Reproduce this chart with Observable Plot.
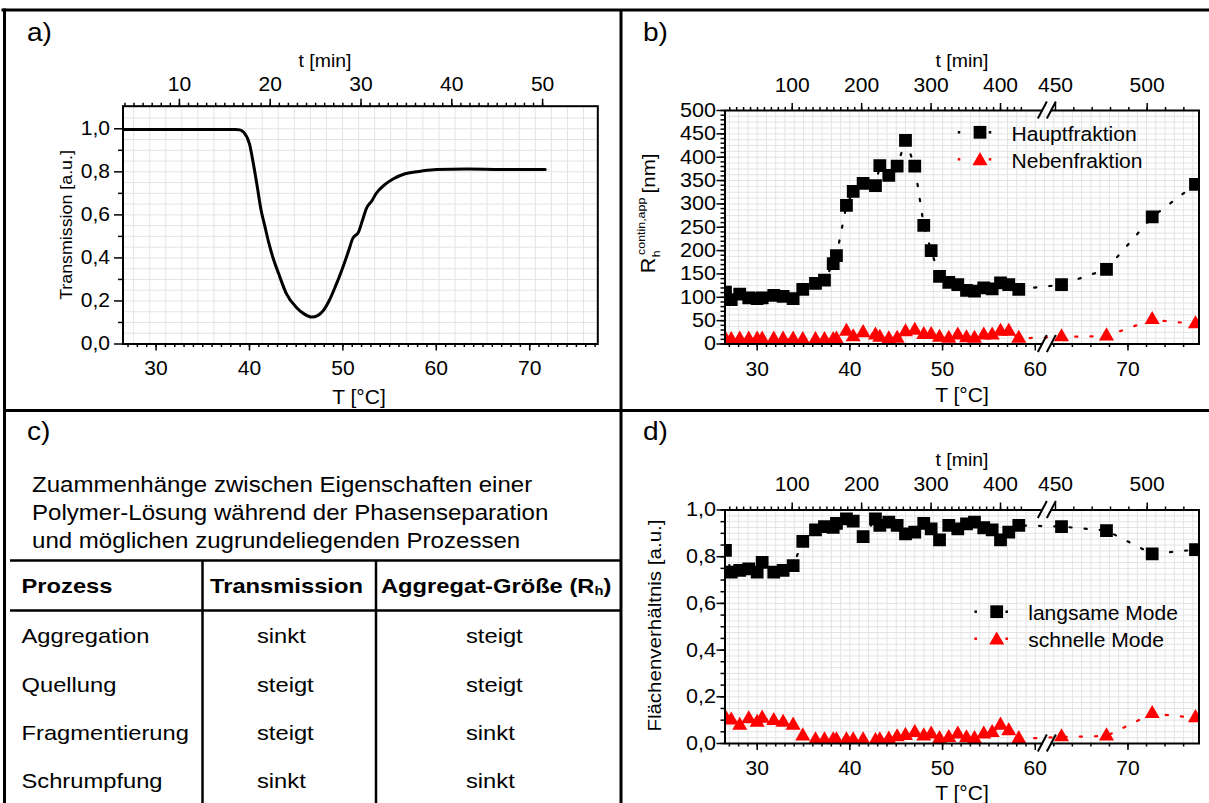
<!DOCTYPE html>
<html><head><meta charset="utf-8">
<script src="https://cdn.jsdelivr.net/npm/d3@7"></script>
<script src="https://cdn.jsdelivr.net/npm/@observablehq/plot@0.6"></script>
<style>
html,body{margin:0;padding:0;background:#fff;overflow:hidden;}
#root{position:relative;width:1209px;height:803px;}
#root svg{position:absolute;left:0;top:0;pointer-events:none;}
</style></head><body><div id="root"></div>
<script>
// ---------- DATA ----------
// a) Transmission vs temperature
const tempA = [26.5, 30, 35, 38.5, 38.96, 39.38, 40.0, 40.42, 40.84, 41.25, 41.67, 42.09, 42.5, 43.13, 43.96, 45.0, 45.84, 46.67, 47.29, 47.92, 48.54, 49.17, 50.0, 50.62, 51.04, 51.67, 52.09, 52.5, 53.13, 53.54, 54.59, 55.42, 56.67, 58.33, 60.0, 63.3, 67.0, 71.66];
const transmission = [0.997, 0.997, 0.997, 0.997, 0.995, 0.984, 0.93, 0.837, 0.729, 0.62, 0.543, 0.466, 0.403, 0.326, 0.233, 0.171, 0.14, 0.125, 0.132, 0.156, 0.202, 0.264, 0.357, 0.434, 0.489, 0.52, 0.574, 0.628, 0.667, 0.698, 0.744, 0.768, 0.791, 0.803, 0.811, 0.813, 0.811, 0.811];
// b) and d) measurement temperatures
const tempDLS = [26.58, 27.20, 28.12, 29.09, 30.00, 30.54, 31.79, 32.80, 33.88, 34.92, 36.29, 37.26, 38.20, 38.55, 39.63, 40.36, 41.43, 42.76, 43.23, 44.20, 45.10, 46.00, 47.00, 47.97, 48.77, 49.67, 50.67, 51.64, 52.58, 53.44, 54.44, 55.35, 56.25, 57.14, 58.22, 62.83, 67.68, 72.61, 77.28];
const rHaupt = [111, 95, 107, 99, 97, 99, 104, 102, 97, 117, 130, 137, 172, 189, 297, 327, 344, 339, 382, 361, 381, 436, 381, 254, 200, 145, 132, 127, 115, 113, 120, 118, 131, 127, 117, 127, 160, 272, 342];
const rNeben = [10, 9, 10, 10, 10, 10, 10, 10, 10, 9, 9, 9, 9, 10, 27, 15, 24, 19, 14, 11, 12, 26, 29, 20, 20, 14, 12, 19, 13, 12, 19, 19, 27, 27, 12, 15, 17, 52, 43];
const areaSlow = [0.827, 0.734, 0.741, 0.748, 0.734, 0.776, 0.734, 0.741, 0.762, 0.866, 0.915, 0.929, 0.926, 0.943, 0.962, 0.952, 0.886, 0.962, 0.934, 0.948, 0.934, 0.898, 0.905, 0.943, 0.919, 0.872, 0.934, 0.919, 0.941, 0.948, 0.924, 0.915, 0.872, 0.905, 0.934, 0.929, 0.912, 0.812, 0.830];
const areaFast = [0.11, 0.10, 0.077, 0.105, 0.09, 0.108, 0.098, 0.09, 0.078, 0.032, 0.015, 0.015, 0.015, 0.015, 0.015, 0.015, 0.015, 0.012, 0.015, 0.018, 0.028, 0.034, 0.046, 0.032, 0.04, 0.02, 0.025, 0.04, 0.024, 0.02, 0.04, 0.046, 0.078, 0.054, 0.02, 0.028, 0.032, 0.128, 0.11];
// tick labels
const tempTicks = [30, 40, 50, 60, 70];
const tMajorA = [10, 20, 30, 40, 50];
const tMajorB = [100, 200, 300, 400, 450, 500];
const rTicks = [0, 50, 100, 150, 200, 250, 300, 350, 400, 450, 500];
const fracTicks = [0, 0.2, 0.4, 0.6, 0.8, 1.0];
// heating programs (time -> temperature)
const heatA = {t0: 10, T0: 32.5, rate: 0.972};
const heatB = [{t0: 100, T0: 33.78, rate: 0.0749}, {t0: 450, T0: 62.18, rate: 0.1978}];
const breakTemp = 61.3;
// legends & table
const legendB = ["Hauptfraktion", "Nebenfraktion"];
const legendD = ["langsame Mode", "schnelle Mode"];
const cText = ["Zuammenhänge zwischen Eigenschaften einer", "Polymer-Lösung während der Phasenseparation", "und möglichen zugrundeliegenden Prozessen"];
const cHeader = ["Prozess", "Transmission", "Aggregat-Größe (R"];
const processes = ["Aggregation", "Quellung", "Fragmentierung", "Schrumpfung"];
const effTransmission = ["sinkt", "steigt", "steigt", "sinkt"];
const effSize = ["steigt", "steigt", "sinkt", "sinkt"];

// ---------- HELPERS ----------
const W = 1209, H = 803;
const FONT = "'Liberation Sans', Arial, Helvetica, sans-serif";
const STRETCH = 1.08;
const RED = "#ff0000";
const GRID = {stroke: "#e4e4e4", strokeOpacity: 1, strokeWidth: 1};
const SQ_R = 7.2, TRI_R = 5.6;
const comma = d => d.toFixed(1).replace(".", ",");
const blank = () => "";
const tToTa = t => heatA.T0 + (t - heatA.t0) * heatA.rate;
const tToTb = t => { const s = t < 440 ? heatB[0] : heatB[1]; return s.T0 + (t - s.t0) * s.rate; };
const labelMap = (ts, f) => { const m = new Map(ts.map(t => [f(t), String(t)])); return d => m.get(d); };

function base(fr) {
  return {
    width: W, height: H,
    marginLeft: fr.left, marginRight: W - fr.right, marginTop: fr.top, marginBottom: H - fr.bottom,
    style: {fontFamily: FONT, fontSize: "19px", background: "transparent", overflow: "visible", color: "black"}
  };
}
// widen glyphs horizontally around each label's own anchor (x/y em offsets are left untouched)
function stretchText(svg, s) {
  svg.querySelectorAll("text").forEach(t => {
    const tr = t.getAttribute("transform") || "";
    t.setAttribute("transform", tr + ` scale(${s},1)`);
  });
}
const root = document.getElementById("root");

// ---------- PANEL a ----------
const frameA = {left: 122.5, right: 597.3, top: 105.7, bottom: 343.5};
const dataA = tempA.map((T, i) => ({T, v: transmission[i]}));
const plotA = Plot.plot({
  ...base(frameA),
  x: {domain: [26.46, 77.29], label: null},
  y: {domain: [0, 1.105], label: null},
  marks: [
    Plot.gridX(d3.range(27.6, 77.2, 1.72), GRID),
    Plot.gridY(d3.range(1, 22).map(i => i * 0.05), GRID),
    Plot.line(dataA, {x: "T", y: "v", stroke: "black", strokeWidth: 3, curve: "monotone-x"}),
    Plot.axisX(d3.range(27, 78), {anchor: "bottom", tickSize: 3.5, strokeWidth: 1.5, tickFormat: blank, label: null}),
    Plot.axisX(tempTicks, {anchor: "bottom", tickSize: 7, tickPadding: 10, strokeWidth: 1.5, fontSize: 19.5, label: null}),
    Plot.axisX(d3.range(4, 51).map(tToTa), {anchor: "top", tickSize: 4, strokeWidth: 1.5, tickFormat: blank, label: null}),
    Plot.axisX(tMajorA.map(tToTa), {anchor: "top", tickSize: 8, tickPadding: 7, strokeWidth: 1.5, fontSize: 19.5, tickFormat: labelMap(tMajorA, tToTa), label: null}),
    Plot.axisY([0.1, 0.3, 0.5, 0.7, 0.9], {anchor: "left", tickSize: 4.4, strokeWidth: 1.5, tickFormat: blank, label: null}),
    Plot.axisY(fracTicks, {anchor: "left", tickSize: 8.5, tickPadding: 4.5, strokeWidth: 1.5, fontSize: 19.5, tickFormat: comma, label: null}),
    Plot.frame({stroke: "black", strokeWidth: 2})
  ]
});
stretchText(plotA, STRETCH);
root.append(plotA);

// ---------- PANELS b and d ----------
const xDLS = {domain: [26.53, 77.66], label: null};
const tempMinor = [...d3.range(27, 61), ...d3.range(62, 78, 2)];
const tMinorB = [...d3.range(10, 440, 10), ...d3.range(460, 530, 10)];
function dlsAxes(yMajor, yMinor, yFmt) {
  return [
    Plot.axisX(tempMinor, {anchor: "bottom", tickSize: 3.5, strokeWidth: 1.5, tickFormat: blank, label: null}),
    Plot.axisX(tempTicks, {anchor: "bottom", tickSize: 7, tickPadding: 11, strokeWidth: 1.5, fontSize: 19.5, label: null}),
    Plot.axisX(tMinorB.map(tToTb), {anchor: "top", tickSize: 4, strokeWidth: 1.5, tickFormat: blank, label: null}),
    Plot.axisX(tMajorB.map(tToTb), {anchor: "top", tickSize: 8, tickPadding: 11, strokeWidth: 1.5, fontSize: 19.5, tickFormat: labelMap(tMajorB, tToTb), label: null}),
    Plot.axisY(yMinor, {anchor: "left", tickSize: 4, strokeWidth: 1.5, tickFormat: blank, label: null}),
    Plot.axisY(yMajor, {anchor: "left", tickSize: 8, tickPadding: 1, strokeWidth: 1.5, fontSize: 20, tickFormat: yFmt, label: null}),
    Plot.frame({stroke: "black", strokeWidth: 2})
  ];
}
function dlsSeries(a, b) {
  return [
    Plot.line(a, {x: "T", y: "v", stroke: "black", strokeWidth: 2.2, strokeDasharray: "2.2,13", clip: true}),
    Plot.line(b, {x: "T", y: "v", stroke: RED, strokeWidth: 2.2, strokeDasharray: "2.2,13", clip: true}),
    Plot.dot(a, {x: "T", y: "v", symbol: "square", r: SQ_R, fill: "black", clip: true}),
    Plot.dot(b, {x: "T", y: "v", symbol: "triangle", r: TRI_R, fill: RED, clip: true})
  ];
}
const frameB = {left: 724.5, right: 1198.5, top: 110, bottom: 343.5};
const haupt = tempDLS.map((T, i) => ({T, v: rHaupt[i]}));
const neben = tempDLS.map((T, i) => ({T, v: rNeben[i]}));
const plotB = Plot.plot({
  ...base(frameB),
  x: xDLS,
  y: {domain: [0, 500], label: null},
  marks: [
    Plot.gridX(d3.range(27, 78), GRID),
    Plot.gridY(d3.range(1, 40).map(i => i * 12.5), GRID),
    ...dlsSeries(haupt, neben),
    ...dlsAxes(rTicks, d3.range(0, 501, 10), d => String(d))
  ]
});
stretchText(plotB, STRETCH);
root.append(plotB);

const frameD = {left: 724.5, right: 1198.5, top: 509.5, bottom: 743};
const slow = tempDLS.map((T, i) => ({T, v: areaSlow[i]}));
const fast = tempDLS.map((T, i) => ({T, v: areaFast[i]}));
const plotD = Plot.plot({
  ...base(frameD),
  x: xDLS,
  y: {domain: [0, 1], label: null},
  marks: [
    Plot.gridX(d3.range(27, 78), GRID),
    Plot.gridY(d3.range(1, 40).map(i => i * 0.025), GRID),
    ...dlsSeries(slow, fast),
    ...dlsAxes(fracTicks, d3.range(0, 21).map(i => i * 0.05), comma)
  ]
});
stretchText(plotD, STRETCH);
root.append(plotD);

// ---------- OVERLAY (frames, titles, legends, table) ----------
const ov = d3.create("svg").attr("width", W).attr("height", H).attr("font-family", FONT);
function txt(g, s, x, y, o = {}) {
  const {size = 19, anchor = "start", weight = "normal", rotate = 0, stretch = STRETCH, fill = "black"} = o;
  return g.append("text")
    .attr("transform", `translate(${x},${y})${rotate ? ` rotate(${rotate})` : ""} scale(${stretch},1)`)
    .attr("text-anchor", anchor).attr("font-size", size).attr("font-weight", weight).attr("fill", fill).text(s);
}
function line(x1, y1, x2, y2, w = 3) {
  ov.append("line").attr("x1", x1).attr("y1", y1).attr("x2", x2).attr("y2", y2).attr("stroke", "black").attr("stroke-width", w);
}
// panel borders
line(1.5, 10, W, 10);
line(4.5, 8.5, 4.5, H);
line(621, 10, 621, H);
line(3, 410.5, W, 410.5);
// panel letters
txt(ov, "a)", 27, 41, {size: 26});
txt(ov, "b)", 643, 41, {size: 26});
txt(ov, "c)", 27, 440, {size: 26});
txt(ov, "d)", 643, 440, {size: 26});
// panel a titles
txt(ov, "t [min]", 325, 67, {size: 18, anchor: "middle"});
txt(ov, "T [°C]", 359, 404, {size: 19.5, anchor: "middle"});
txt(ov, "Transmission [a.u.]", 72, 225, {size: 16.5, anchor: "middle", rotate: -90});
// panel b titles
txt(ov, "t [min]", 962, 67, {size: 18, anchor: "middle"});
txt(ov, "T [°C]", 962, 401.5, {size: 19.5, anchor: "middle"});
const rg = ov.append("g").attr("transform", `translate(655,273.3) rotate(-90) scale(${STRETCH},1)`);
rg.append("text").attr("font-size", 20).text("R");
rg.append("text").attr("x", 14.8).attr("y", 4.5).attr("font-size", 11.5).text("h");
rg.append("text").attr("x", 17).attr("y", -10.5).attr("font-size", 11.5).text("contin,app");
rg.append("text").attr("x", 74).attr("font-size", 19).text("[nm]");
// panel d titles
txt(ov, "t [min]", 962, 466, {size: 18, anchor: "middle"});
txt(ov, "T [°C]", 962, 800, {size: 19.5, anchor: "middle"});
txt(ov, "Flächenverhältnis [a.u.]", 661, 625.6, {size: 19, anchor: "middle", rotate: -90});
// axis breaks
function breakMark(cx, y) {
  ov.append("rect").attr("x", cx - 4).attr("y", y - 2.5).attr("width", 8).attr("height", 5).attr("fill", "white");
  for (const dx of [-9, 0]) {
    ov.append("line").attr("x1", cx + dx).attr("y1", y + 8.5).attr("x2", cx + dx + 9).attr("y2", y - 8.5)
      .attr("stroke", "black").attr("stroke-width", 2);
  }
}
const xb = plotB.scale("x").apply(breakTemp);
breakMark(xb, frameB.top); breakMark(xb, frameB.bottom);
const xd = plotD.scale("x").apply(breakTemp);
breakMark(xd, frameD.top); breakMark(xd, frameD.bottom);
// legends
function legend(labels, x0, y0) {
  const sym = [{type: d3.symbolSquare, r: SQ_R, color: "black", dy: 0}, {type: d3.symbolTriangle, r: TRI_R, color: RED, dy: 1.5}];
  labels.forEach((lab, i) => {
    const y = y0 + i * 27, s = sym[i];
    for (const dx of [-21, 10]) ov.append("rect").attr("x", x0 + dx - 1.25).attr("y", y - 1.25).attr("width", 2.5).attr("height", 2.5).attr("fill", s.color);
    ov.append("path").attr("d", d3.symbol(s.type, Math.PI * s.r * s.r)()).attr("transform", `translate(${x0},${y + s.dy})`).attr("fill", s.color);
    txt(ov, lab, x0 + 31.5, y + 8.4, {size: 19.5});
  });
}
legend(legendB, 980, 132.3);
legend(legendD, 996.7, 611.7);
// panel c table
const CS = 1.13;
cText.forEach((s, i) => txt(ov, s, 32, 492 + i * 28, {size: 21.3, stretch: CS}));
line(10, 560.5, 621, 560.5, 2.5);
line(10, 610.5, 621, 610.5, 2.5);
line(202.5, 560.5, 202.5, H, 2.5);
line(376, 560.5, 376, H, 2.5);
const colX = [21.5, 210, 381];
cHeader.forEach((s, i) => {
  const t = txt(ov, s, colX[i], 593.3, {size: 21, weight: "bold", stretch: CS});
  if (i === 2) {
    t.append("tspan").attr("font-size", 13).attr("dy", 2).text("h");
    t.append("tspan").attr("dy", -2).text(")");
  }
});
const valX = [21.5, 257, 466];
processes.forEach((p, i) => {
  const y = 643.3 + i * 48.3;
  txt(ov, p, valX[0], y, {size: 21, stretch: CS});
  txt(ov, effTransmission[i], valX[1], y, {size: 21, stretch: CS});
  txt(ov, effSize[i], valX[2], y, {size: 21, stretch: CS});
});
root.append(ov.node());
</script>
</body></html>
